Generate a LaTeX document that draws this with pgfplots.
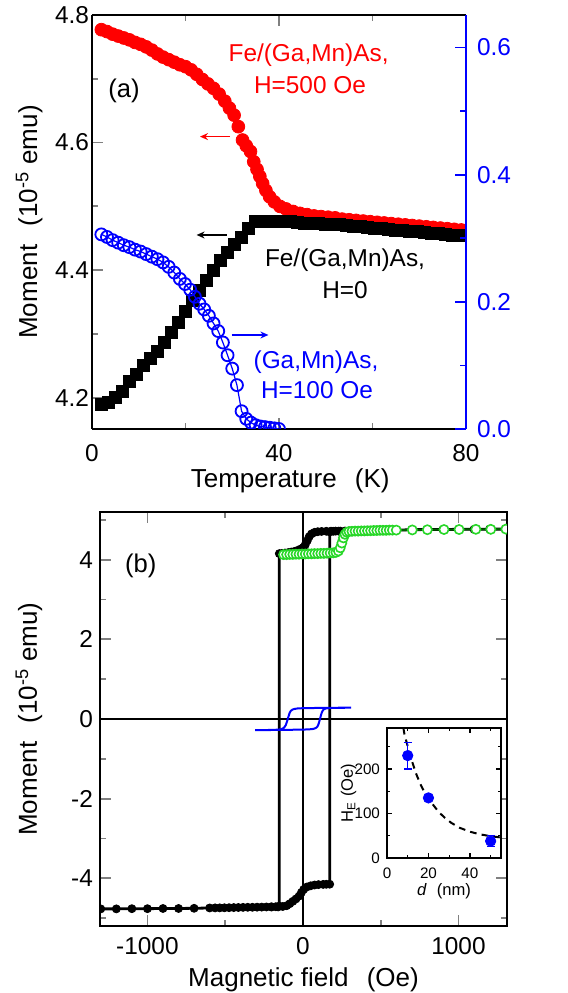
\documentclass[border=0pt]{standalone}
\usepackage{fontspec}
\setmainfont{Liberation Sans}
\usepackage{pgfplots}
\pgfplotsset{compat=1.18}
\usetikzlibrary{arrows.meta}
\definecolor{mygreen}{RGB}{40,215,40}
\definecolor{dkgreen}{RGB}{0,90,0}
\begin{document}
\begin{tikzpicture}
\useasboundingbox (0,0) rectangle (284pt,496.5pt);
\pgfplotsset{
 base/.style={scale only axis, axis line style={line width=1pt}, tick align=inside,
   major tick length=5.5pt, minor tick length=3.2pt,
   every tick/.append style={line width=0.9pt},
   tick label style={font=\fontsize{12.2}{14}\selectfont},
   label style={font=\fontsize{13}{15}\selectfont},
   /pgf/number format/assume math mode=true, /pgf/number format/1000 sep={}}
}
% ---------- panel (a), left axis ----------
\begin{axis}[base, at={(46pt,282pt)}, anchor=south west, width=187pt, height=207pt,
  xmin=0, xmax=80, ymin=4.151, ymax=4.8,
  axis y line*=left,
  xtick={0,40,80}, minor xtick={20,60},
  ytick={4.2,4.4,4.6,4.8}, minor ytick={4.3,4.5,4.7},
  xticklabel style={yshift=-4.3pt},
  yticklabel style={/pgf/number format/fixed, /pgf/number format/fixed zerofill, /pgf/number format/precision=1, xshift=2pt},
  xlabel={Temperature\hspace{0.7em}(K)},
  xlabel style={at={(axis description cs:0.53,-0.141)}, anchor=base},
  ylabel={Moment\hspace{0.7em}(10\textsuperscript{-5} emu)},
  ylabel style={at={(axis description cs:-0.147,0.5)}, anchor=base},
  clip marker paths=true]
\addplot[red, only marks, mark=*, mark size=3.2pt] coordinates {
(2.0,4.777)(3.2,4.774)(4.4,4.770)(5.6,4.767)(6.8,4.764)(8.0,4.761)(9.2,4.757)(10.4,4.754)(11.6,4.750)(12.8,4.745)(14.0,4.739)(15.2,4.734)(16.4,4.730)(17.6,4.726)(18.8,4.722)(20.0,4.719)(21.2,4.714)(22.4,4.707)(23.6,4.699)(24.8,4.692)(26.0,4.685)(27.2,4.676)(28.4,4.665)(29.4,4.654)(30.4,4.643)(31.3,4.625)(32.2,4.604)(33.0,4.595)(33.9,4.586)(34.6,4.570)(35.3,4.558)(35.9,4.547)(36.5,4.536)(37.2,4.525)(38.0,4.515)(39.0,4.507)(40.2,4.500)(41.5,4.496)(43.0,4.492)(44.5,4.489)(46,4.487)(47.5,4.485)(49,4.484)(50.5,4.483)(52,4.482)(53.5,4.480)(55,4.479)(56.5,4.478)(58,4.477)(59.5,4.476)(61,4.475)(62.5,4.474)(64,4.473)(65.5,4.472)(67,4.471)(68.5,4.470)(70,4.469)(71.5,4.468)(73,4.467)(74.5,4.466)(76,4.465)(77.5,4.464)(79,4.463)(80,4.462)};
\addplot[black, only marks, mark=square*, mark size=3pt] coordinates {
(2.0,4.190)(3.5,4.193)(5.0,4.200)(6.5,4.210)(8.0,4.225)(9.5,4.237)(11.0,4.250)(12.5,4.262)(14.0,4.272)(15.5,4.286)(17.0,4.302)(18.5,4.318)(20.0,4.336)(21.5,4.352)(23.0,4.368)(24.5,4.384)(26.0,4.400)(27.5,4.416)(29.0,4.428)(30.5,4.440)(32.0,4.452)(33.5,4.466)(35.0,4.477)(36.5,4.477)(38,4.477)(39.5,4.477)(41,4.476)(42.5,4.476)(44,4.475)(45.5,4.474)(47,4.474)(48.5,4.473)(50,4.472)(51.5,4.472)(53,4.471)(54.5,4.470)(56,4.469)(57.5,4.468)(59,4.467)(60.5,4.466)(62,4.465)(63.5,4.464)(65,4.463)(66.5,4.462)(68,4.461)(69.5,4.460)(71,4.459)(72.5,4.458)(74,4.457)(75.5,4.456)(77,4.455)(78.5,4.455)(80,4.454)};
\end{axis}
% ---------- panel (a), right axis ----------
\begin{axis}[base, at={(46pt,282pt)}, anchor=south west, width=187pt, height=207pt,
  xmin=0, xmax=80, ymin=0, ymax=0.651,
  axis y line*=right, axis x line=none,
  ytick={0,0.2,0.4,0.6}, minor ytick={0.1,0.3,0.5},
  y axis line style={blue}, ytick style={blue},
  yticklabel style={blue, /pgf/number format/fixed, /pgf/number format/fixed zerofill, /pgf/number format/precision=1, xshift=2pt},
  clip marker paths=true]
\addplot[blue, line width=0.6pt, mark=o, mark size=3pt, mark options={line width=0.9pt}] coordinates {
(2.0,0.306)(3.2,0.302)(4.4,0.297)(5.6,0.293)(6.8,0.289)(8.0,0.286)(9.2,0.282)(10.4,0.279)(11.6,0.275)(12.8,0.271)(14.0,0.267)(15.2,0.262)(16.4,0.255)(17.6,0.246)(18.8,0.236)(19.9,0.228)(21.0,0.219)(22.0,0.208)(23.0,0.197)(24.0,0.188)(25.0,0.178)(26.0,0.166)(27.0,0.154)(28.0,0.136)(29.0,0.116)(30.0,0.095)(31.0,0.069)(32.0,0.028)(33.0,0.016)(34.0,0.010)(35.0,0.006)(36.0,0.004)(37.0,0.003)(38.0,0.002)(39.0,0.001)(40.0,0.000)};
\end{axis}
% ---------- panel (b) ----------
\begin{axis}[base, at={(50pt,33.5pt)}, anchor=south west, width=203.5pt, height=207pt,
  xmin=-1305, xmax=1312, ymin=-5.2, ymax=5.2,
  xtick={-1000,0,1000}, minor xtick={-500,500},
  ytick={-4,-2,0,2,4}, minor ytick={-5,-3,-1,1,3,5},
  xticklabel style={yshift=-2pt},
  xlabel={Magnetic field\hspace{0.7em}(Oe)},
  xlabel style={at={(axis description cs:0.5,-0.145)}, anchor=base},
  ylabel={Moment\hspace{0.7em}(10\textsuperscript{-5} emu)},
  ylabel style={at={(axis description cs:-0.155,0.5)}, anchor=base},
  clip marker paths=true]
\addplot[black, line width=1.2pt] coordinates {(-1305,0) (1312,0)};
\addplot[black, line width=1.2pt] coordinates {(0,-5.2) (0,5.2)};
\addplot[black, line width=1.4pt, mark=*, mark size=2pt, mark options={line width=0.4pt}] coordinates {
(1300,4.77)(1200,4.77)(1100,4.765)(1000,4.765)(900,4.76)(800,4.76)(700,4.755)(600,4.745)(570,4.742)(540,4.74)(510,4.738)(480,4.736)(450,4.734)(420,4.732)(390,4.73)(360,4.728)(330,4.726)(300,4.724)(270,4.722)(240,4.72)(210,4.72)(180,4.718)(150,4.716)(120,4.712)(95,4.705)(75,4.69)(55,4.65)(40,4.58)(28,4.48)(15,4.38)(3,4.31)(-15,4.27)(-35,4.235)(-55,4.21)(-75,4.195)(-95,4.18)(-115,4.17)(-135,4.16)(-152,4.155)
(-152,-4.70)(-175,-4.715)(-205,-4.72)(-235,-4.722)(-265,-4.725)(-295,-4.727)(-325,-4.73)(-355,-4.73)(-385,-4.732)(-415,-4.735)(-445,-4.737)(-475,-4.74)(-505,-4.742)(-535,-4.744)(-565,-4.745)(-600,-4.747)(-700,-4.755)(-800,-4.76)(-900,-4.76)(-1000,-4.765)(-1100,-4.765)(-1200,-4.77)(-1300,-4.77)};
\addplot[black, line width=1.4pt, mark=*, mark size=2pt, mark options={line width=0.4pt}] coordinates {
(-200,-4.72)(-160,-4.72)(-130,-4.71)(-105,-4.69)(-85,-4.64)(-65,-4.58)(-45,-4.52)(-25,-4.45)(-10,-4.36)(5,-4.28)(25,-4.22)(50,-4.19)(75,-4.17)(100,-4.16)(130,-4.155)(150,-4.152)(172,-4.15)(172,4.70)(195,4.716)(230,4.72)};
\addplot[dkgreen, line width=1pt, mark=*, mark size=2.3pt, mark options={fill=white, draw=mygreen, line width=0.8pt}] coordinates {
(-125,4.13)(-105,4.13)(-85,4.135)(-65,4.135)(-45,4.14)(-25,4.14)(-5,4.145)(15,4.145)(35,4.15)(55,4.15)(75,4.155)(95,4.155)(115,4.16)(135,4.16)(155,4.165)(175,4.17)(195,4.175)(212,4.185)(228,4.22)(240,4.30)(250,4.42)(260,4.55)(270,4.64)(282,4.69)(296,4.71)(315,4.715)(335,4.72)(355,4.72)(375,4.725)(395,4.725)(415,4.73)(435,4.73)(455,4.735)(475,4.735)(495,4.74)(515,4.74)(535,4.74)(555,4.745)(575,4.745)(600,4.745)(703,4.75)(800,4.755)(907,4.76)(1004,4.76)(1112,4.765)(1208,4.765)(1305,4.77)};
\addplot[blue, line width=1pt] coordinates {
(-308,-0.28)(-200,-0.276)(-100,-0.272)(0,-0.266)(40,-0.26)(60,-0.252)(75,-0.24)(85,-0.22)(93,-0.19)(99,-0.14)(104,-0.08)(108,-0.02)(112,0.04)(116,0.10)(121,0.16)(127,0.21)(135,0.245)(147,0.265)(165,0.275)(220,0.28)(310,0.285)
(200,0.282)(100,0.278)(0,0.272)(-35,0.265)(-55,0.252)(-68,0.235)(-78,0.205)(-85,0.16)(-90,0.10)(-95,0.04)(-99,-0.02)(-104,-0.08)(-109,-0.14)(-116,-0.19)(-126,-0.23)(-140,-0.255)(-160,-0.268)(-220,-0.276)(-308,-0.28)};
\end{axis}
% ---------- inset ----------
\begin{axis}[at={(193.5pt,67.5pt)}, anchor=south west, width=57pt, height=65pt, scale only axis,
  xmin=0, xmax=55, ymin=0, ymax=292,
  xtick={0,20,40}, minor xtick={10,30,50},
  ytick={0,100,200}, minor ytick={50,150,250},
  tick align=inside, major tick length=2.4pt, minor tick length=1.6pt,
  axis line style={line width=0.8pt}, every tick/.append style={line width=0.6pt, black},
  axis background/.style={fill=white},
  tick label style={font=\fontsize{7.6}{9}\selectfont},
  label style={font=\fontsize{8.3}{10}\selectfont},
  xticklabel style={yshift=-1.5pt},
  /pgf/number format/assume math mode=true,
  xlabel={\textit{d}\hspace{0.6em}(nm)},
  xlabel style={at={(axis description cs:0.5,-0.285)}, anchor=base},
  ylabel={H\textsubscript{E} (Oe)},
  ylabel style={at={(axis description cs:-0.30,0.5)}, anchor=base}]
\addplot[black, line width=1pt, dash pattern=on 3.3pt off 2.6pt] coordinates {
(7.9,292)(8.5,276)(10,251)(12,218)(14,190)(16,167)(18,148)(20,134)(22,121)(25,103)(28,90)(31,79)(35,68)(40,59)(45,53)(50,49)(55,46)};
\addplot[blue, only marks, mark=*, mark size=2.6pt,
  error bars/.cd, y dir=both, y explicit,
  error bar style={blue, line width=0.7pt},
  error mark options={blue, rotate=90, mark size=2pt, line width=0.7pt}] coordinates {
(10,230) +- (0,30) (20,135) +- (0,0) (50,38) +- (0,12)};
\end{axis}
% ---------- annotations ----------
\node[red, font=\fontsize{12.2}{14}\selectfont, anchor=base] at (154.3pt,465.65pt) {Fe/(Ga,Mn)As,};
\node[red, font=\fontsize{12.2}{14}\selectfont, anchor=base] at (155pt,449.85pt) {H=500 Oe};
\draw[red, line width=0.7pt, -{Stealth[length=4pt,width=3.5pt]}] (115pt,428.2pt) -- (100pt,428.2pt);
\node[black, font=\fontsize{12.2}{14}\selectfont, anchor=base] at (172.5pt,363.2pt) {Fe/(Ga,Mn)As,};
\node[black, font=\fontsize{12.2}{14}\selectfont, anchor=base] at (172.5pt,347.3pt) {H=0};
\draw[black, line width=0.7pt, -{Stealth[length=4pt,width=3.5pt]}] (113.3pt,379pt) -- (98.3pt,379pt);
\node[blue, font=\fontsize{12.2}{14}\selectfont, anchor=base] at (158pt,312.3pt) {(Ga,Mn)As,};
\node[blue, font=\fontsize{12.2}{14}\selectfont, anchor=base] at (158.5pt,297.3pt) {H=100 Oe};
\draw[blue, line width=0.7pt, -{Stealth[length=4pt,width=3.5pt]}] (115.8pt,329pt) -- (134.2pt,329pt);
\node[black, font=\fontsize{12.8}{14}\selectfont, anchor=base] at (62pt,447.5pt) {(a)};
\node[black, font=\fontsize{12.8}{14}\selectfont, anchor=base] at (70.4pt,210pt) {(b)};
\end{tikzpicture}
\end{document}
